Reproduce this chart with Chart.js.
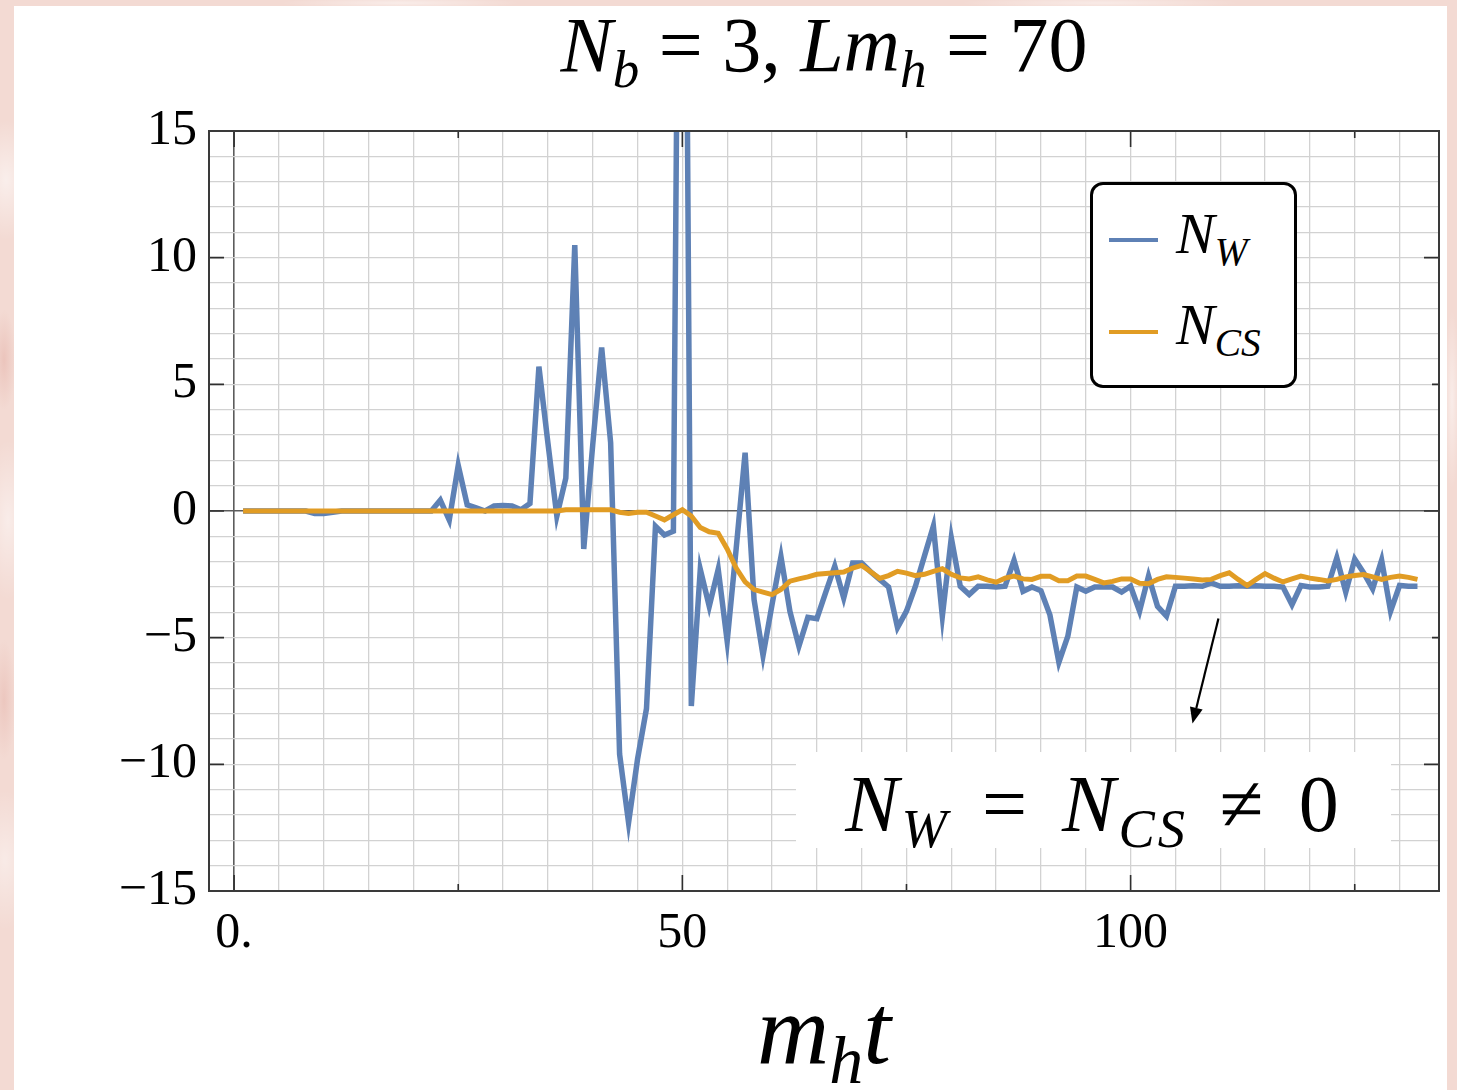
<!DOCTYPE html>
<html>
<head>
<meta charset="utf-8">
<title>N_W and N_CS vs m_h t</title>
<script src="https://cdn.jsdelivr.net/npm/chart.js@4.4.1/dist/chart.umd.min.js"></script>
<style>
  html, body { margin: 0; padding: 0; }
  body {
    width: 1457px; height: 1090px; position: relative; overflow: hidden;
    background:
      radial-gradient(ellipse 30px 60px at 6px 180px, rgba(255,255,255,0.55), transparent),
      radial-gradient(ellipse 25px 80px at 8px 520px, rgba(255,255,255,0.5), transparent),
      radial-gradient(ellipse 30px 70px at 5px 860px, rgba(255,255,255,0.45), transparent),
      radial-gradient(ellipse 120px 6px at 400px 3px, rgba(255,255,255,0.5), transparent),
      radial-gradient(ellipse 140px 6px at 1100px 3px, rgba(255,255,255,0.45), transparent),
      radial-gradient(ellipse 8px 90px at 1452px 400px, rgba(255,255,255,0.5), transparent),
      radial-gradient(ellipse 12px 50px at 4px 360px, rgba(226,170,160,0.45), transparent),
      radial-gradient(ellipse 12px 60px at 4px 700px, rgba(226,170,160,0.4), transparent),
      #f3dad3;
  }
  #panel { position: absolute; left: 14px; top: 6px; width: 1433px; height: 1084px; background: #fff; }
  #plot { position: absolute; left: 0; top: 0; }
  .math {
    position: absolute; white-space: nowrap; color: #000; line-height: 1;
    font-family: "Liberation Serif", "DejaVu Serif", serif;
  }
  .math i { font-style: italic; }
  .math sub { font-size: 0.68em; vertical-align: -0.3em; line-height: 0; }
  #title { left: 0; width: 1648px; text-align: center; top: 6px; font-size: 78px; }
  #xlabel { left: 0; width: 1648px; text-align: center; top: 980px; font-size: 100px; }
  #legend {
    position: absolute; left: 1090px; top: 182px; width: 201px; height: 200px;
    border: 3px solid #000; border-radius: 13px; background: #fff;
  }
  .swatch { position: absolute; left: 16px; width: 49px; height: 4px; }
  .entry { position: absolute; left: 83px; font-size: 58px; }
  #note {
    position: absolute; left: 796px; top: 752px; width: 595px; height: 96px; background: #fff;
  }
  #note .math {
    left: 0; width: 595px; text-align: center; top: 12px; font-size: 80px;
    letter-spacing: 3px; word-spacing: 9px;
  }
</style>
</head>
<body>
<div id="panel"></div>
<canvas id="plot" width="1457" height="1090"></canvas>

<div id="title" class="math"><i>N</i><sub><i>b</i></sub> = 3, <i>Lm</i><sub><i>h</i></sub> = 70</div>
<div id="xlabel" class="math"><i>m</i><sub><i>h</i></sub><i>t</i></div>

<div id="legend">
  <div class="swatch" style="top:53px;background:#5e81b5;"></div>
  <div class="entry math" style="top:20px;"><i>N</i><sub><i>W</i></sub></div>
  <div class="swatch" style="top:145px;background:#e19c24;"></div>
  <div class="entry math" style="top:111px;"><i>N</i><sub><i>CS</i></sub></div>
</div>

<div id="note"><div class="math"><i>N</i><sub><i>W</i></sub> = <i>N</i><sub><i>CS</i></sub> ≠ 0</div></div>

<script>
// ── DATA ───────────────────────────────────────
// sample times m_h t
const mhT = [
  1, 2, 3, 4, 5, 6, 7, 8, 9, 10, 11, 12, 13, 14, 15, 16, 17, 18, 19, 20,
  21, 22, 23, 24, 25, 26, 27, 28, 29, 30, 31, 32, 33, 34, 35, 36, 37, 38, 39, 40,
  41, 42, 43, 44, 45, 46, 47, 48, 49, 50, 51, 52, 53, 54, 55, 56, 57, 58, 59, 60,
  61, 62, 63, 64, 65, 66, 67, 68, 69, 70, 71, 72, 73, 74, 75, 76, 77, 78, 79, 80,
  81, 82, 83, 84, 85, 86, 87, 88, 89, 90, 91, 92, 93, 94, 95, 96, 97, 98, 99, 100,
  101, 102, 103, 104, 105, 106, 107, 108, 109, 110, 111, 112, 113, 114, 115, 116, 117, 118, 119, 120,
  121, 122, 123, 124, 125, 126, 127, 128, 129, 130, 131, 132
];

// winding number N_W
const nW = [
  0, 0, 0, 0, 0, 0, 0, 0, -0.1, -0.1, -0.05, 0, 0, 0, 0, 0, 0, 0, 0, 0,
  0, 0, 0.43, -0.36, 1.8, 0.24, 0.12, 0, 0.2, 0.22, 0.2, 0.05, 0.3, 5.7, 2.7, -0.2, 1.3, 10.5, -1.5, 2.6,
  6.45, 2.7, -9.6, -12.3, -9.8, -7.8, -0.6, -0.95, -0.8, 45, -7.7, -2.3, -3.76, -2.3, -5.14, -1.5, 2.3, -3.5, -5.7, -3.7,
  -1.8, -3.96, -5.34, -4.2, -4.25, -3.2, -2.18, -3.43, -2.05, -2.05, -2.4, -2.7, -3.0, -4.6, -3.95, -2.97, -1.78, -0.6, -4.15, -1.06,
  -2.97, -3.3, -2.97, -2.97, -3.0, -2.97, -1.95, -3.17, -3.0, -3.15, -4.1, -5.97, -4.94, -3.0, -3.17, -3.0, -3.0, -3.0, -3.2, -2.97,
  -3.95, -2.57, -3.76, -4.15, -2.97, -2.97, -2.95, -2.97, -2.84, -2.97, -2.97, -2.95, -2.97, -2.95, -2.97, -2.97, -3.0, -3.7, -2.94, -3.0,
  -3.0, -2.97, -1.85, -3.2, -1.9, -2.44, -3.07, -1.94, -3.95, -2.94, -2.97, -2.97
];

// Chern-Simons number N_CS
const nCS = [
  0, 0, 0, 0, 0, 0, 0, 0, 0, 0, 0, 0, 0, 0, 0, 0, 0, 0, 0, 0,
  0, 0, 0, 0, 0, 0, 0, 0, 0, 0, 0, 0, 0, 0, 0, 0, 0.05, 0.05, 0.05, 0.05,
  0.05, 0.05, -0.05, -0.1, -0.05, -0.05, -0.2, -0.35, -0.15, 0.05, -0.2, -0.65, -0.82, -0.88, -1.5, -2.25, -2.8, -3.1, -3.2, -3.3,
  -3.1, -2.77, -2.68, -2.6, -2.5, -2.47, -2.44, -2.41, -2.25, -2.15, -2.4, -2.66, -2.55, -2.38, -2.45, -2.55, -2.5, -2.38, -2.28, -2.5,
  -2.64, -2.68, -2.6, -2.72, -2.81, -2.65, -2.57, -2.68, -2.7, -2.58, -2.58, -2.75, -2.75, -2.57, -2.57, -2.7, -2.84, -2.78, -2.68, -2.68,
  -2.85, -2.87, -2.7, -2.6, -2.62, -2.65, -2.68, -2.72, -2.7, -2.55, -2.44, -2.7, -2.94, -2.7, -2.47, -2.65, -2.8, -2.68, -2.57, -2.65,
  -2.7, -2.76, -2.7, -2.6, -2.55, -2.51, -2.6, -2.7, -2.62, -2.57, -2.62, -2.7
];

// grid positions and labelled ticks
const xGrid = [0, 5, 10, 15, 20, 25, 30, 35, 40, 45, 50, 55, 60, 65, 70, 75, 80, 85, 90, 95, 100, 105, 110, 115, 120, 125, 130];
const xLabelled = [0, 50, 100];
const xMajor = [0, 25, 50, 75, 100, 125];
const yGrid = [-15, -14, -13, -12, -11, -10, -9, -8, -7, -6, -5, -4, -3, -2, -1, 0, 1, 2, 3, 4, 5, 6, 7, 8, 9, 10, 11, 12, 13, 14, 15];
const yLabelled = [-15, -10, -5, 0, 5, 10, 15];

// arrow pointing down toward the late-time plateau (data coords)
const arrowFrom = [109.8, -4.24];
const arrowTo = [106.9, -8.39];

const BLUE = '#5e81b5';
const ORANGE = '#e19c24';

// ── FRAME, INNER TICKS, ARROW ──────────────────
const framePlugin = {
  id: 'frame',
  afterDatasetsDraw(chart) {
    const { ctx, chartArea: a, scales: { x, y } } = chart;
    ctx.save();
    ctx.strokeStyle = '#2f2f2f';
    ctx.lineWidth = 1.6;
    ctx.beginPath();
    xMajor.forEach(v => {
      const px = x.getPixelForValue(v);
      const len = xLabelled.includes(v) ? 16 : 7;
      ctx.moveTo(px, a.bottom); ctx.lineTo(px, a.bottom - len);
      ctx.moveTo(px, a.top);    ctx.lineTo(px, a.top + len);
    });
    yLabelled.forEach(v => {
      const py = y.getPixelForValue(v);
      ctx.moveTo(a.left, py);  ctx.lineTo(a.left + 15, py);
      const len = v % 10 === 0 ? 15 : 7;
      ctx.moveTo(a.right, py); ctx.lineTo(a.right - len, py);
    });
    ctx.stroke();

    ctx.strokeStyle = '#3a3a3a';
    ctx.lineWidth = 2;
    ctx.strokeRect(a.left, a.top, a.right - a.left, a.bottom - a.top);

    // arrow
    const x0 = x.getPixelForValue(arrowFrom[0]), y0 = y.getPixelForValue(arrowFrom[1]);
    const x1 = x.getPixelForValue(arrowTo[0]),   y1 = y.getPixelForValue(arrowTo[1]);
    const ang = Math.atan2(y1 - y0, x1 - x0);
    const head = 16, half = 6.5;
    const bx = x1 - head * Math.cos(ang), by = y1 - head * Math.sin(ang);
    ctx.strokeStyle = '#000';
    ctx.lineWidth = 2.2;
    ctx.beginPath(); ctx.moveTo(x0, y0); ctx.lineTo(bx, by); ctx.stroke();
    ctx.fillStyle = '#000';
    ctx.beginPath();
    ctx.moveTo(x1, y1);
    ctx.lineTo(bx + half * Math.sin(ang), by - half * Math.cos(ang));
    ctx.lineTo(bx - half * Math.sin(ang), by + half * Math.cos(ang));
    ctx.closePath(); ctx.fill();
    ctx.restore();
  }
};

const tickFont = { family: "'Liberation Serif', serif", size: 50 };
const gridColor = c => (c.tick && c.tick.value === 0 ? '#5c5c5c' : '#d2d2d2');
const gridWidth = c => (c.tick && c.tick.value === 0 ? 1.6 : 1.3);

new Chart(document.getElementById('plot'), {
  type: 'line',
  data: {
    datasets: [
      {
        label: 'N_W',
        data: mhT.map((t, i) => ({ x: t, y: nW[i] })),
        borderColor: BLUE, borderWidth: 5.5,
        pointRadius: 0, tension: 0, clip: 0, order: 1
      },
      {
        label: 'N_CS',
        data: mhT.map((t, i) => ({ x: t, y: nCS[i] })),
        borderColor: ORANGE, borderWidth: 5,
        pointRadius: 0, tension: 0, clip: 0, order: 0
      }
    ]
  },
  options: {
    responsive: false,
    animation: false,
    events: [],
    layout: { padding: { left: 0, top: 131, right: 18, bottom: 0 } },
    plugins: { legend: { display: false }, tooltip: { enabled: false } },
    scales: {
      x: {
        type: 'linear', min: -2.8, max: 134.4,
        afterBuildTicks: s => { s.ticks = xGrid.map(v => ({ value: v })); },
        afterFit: s => { s.height = 199; },
        grid: { color: gridColor, lineWidth: gridWidth, drawTicks: false },
        border: { display: false },
        ticks: {
          autoSkip: false, maxRotation: 0, padding: 13, color: '#000', font: tickFont,
          callback: v => (v === 0 ? '0.' : xLabelled.includes(v) ? String(v) : '')
        }
      },
      y: {
        type: 'linear', min: -15, max: 15,
        afterBuildTicks: s => { s.ticks = yGrid.map(v => ({ value: v })); },
        afterFit: s => { s.width = 209; },
        grid: { color: gridColor, lineWidth: gridWidth, drawTicks: false },
        border: { display: false },
        ticks: {
          autoSkip: false, padding: 12, color: '#000', font: tickFont,
          callback: v => (yLabelled.includes(v) ? (v < 0 ? '\u2212' + Math.abs(v) : String(v)) : '')
        }
      }
    }
  },
  plugins: [framePlugin]
});
</script>
</body>
</html>
